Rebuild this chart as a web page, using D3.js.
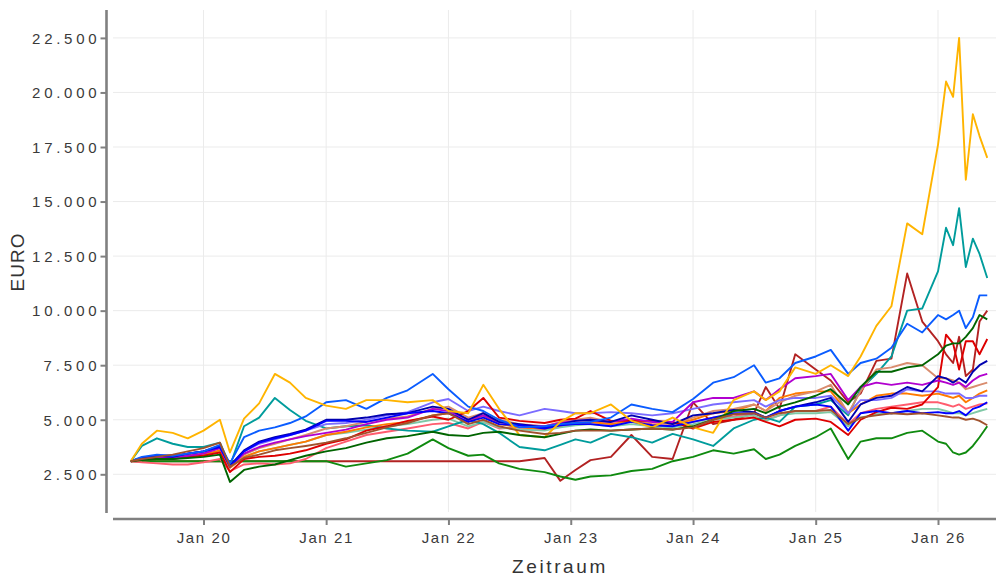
<!DOCTYPE html>
<html><head><meta charset="utf-8">
<script src="https://cdn.jsdelivr.net/npm/d3@7"></script>
<style>
body{margin:0;background:#fff}
text{font-family:"Liberation Sans",Arial,sans-serif}
</style>
</head><body>
<svg id="c" width="996" height="578"></svg>
<script>
const dates = ["2019-05-29","2019-07-01","2019-08-15","2019-10-01","2019-11-15",
"2020-01-01","2020-02-19","2020-03-20","2020-05-01","2020-06-15","2020-08-01","2020-09-15","2020-11-01",
"2021-01-01","2021-03-01","2021-05-01","2021-07-01","2021-09-01","2021-11-15",
"2022-01-01","2022-03-01","2022-04-15","2022-06-01","2022-08-01","2022-10-15","2022-12-01",
"2023-01-15","2023-03-01","2023-05-01","2023-07-01","2023-09-01","2023-11-01",
"2024-01-01","2024-03-01","2024-05-01","2024-07-01","2024-08-05","2024-09-15","2024-11-01",
"2025-01-01","2025-02-15","2025-04-08","2025-05-15","2025-07-01","2025-08-15","2025-10-01","2025-11-15",
"2026-01-01","2026-01-25","2026-02-15","2026-03-05","2026-03-25","2026-04-15","2026-05-05","2026-05-28"];

const yTickValues = [2500,5000,7500,10000,12500,15000,17500,20000,22500];
const xTickDates = ["2020-01-01","2021-01-01","2022-01-01","2023-01-01","2024-01-01","2025-01-01","2026-01-01"];

const gold = [3100,3900,4500,4400,4150,
 4500,5000,3500,5050,5750,7100,6700,6000,
 5650,5500,5900,5900,5800,5900,
 5400,5300,6600,5500,4300,4200,4900,
 5300,5300,5700,4950,4650,5100,
 4650,4400,5900,6300,5900,6300,7400,
 7100,7500,7000,7900,9300,10200,14000,13500,
 17600,20500,19800,22500,16000,19000,18000,17000];
const teal = [3100,3800,4150,3900,3750,
 3750,3950,2900,4700,5100,6000,5450,4950,
 4600,4700,4750,4600,4500,4450,
 4700,5000,4800,4400,3750,3600,3850,
 4100,3950,4350,4200,3950,4350,
 4100,3800,4600,5000,5100,4900,5600,
 5700,5900,5200,6400,7100,7900,10000,10100,
 11800,13800,13000,14700,12000,13300,12600,11500];
const brightBlue = [3100,3300,3400,3350,3450,
 3550,3850,3000,4200,4500,4650,4850,5150,
 5800,5900,5500,6000,6350,7100,
 6400,5600,5400,5000,4650,4700,4800,
 4850,4900,5100,5700,5500,5350,
 5950,6700,6950,7500,6700,6900,7600,
 7900,8200,7100,7600,7800,8300,9400,9000,
 9800,9600,9800,10000,9200,9700,10700,10700];
const firebrick = [3100,3100,3100,3100,3100,
 3100,3100,3100,3100,3100,3100,3100,3100,
 3100,3100,3100,3100,3100,3100,
 3100,3100,3100,3100,3100,3250,2200,
 2700,3150,3300,4300,3300,3200,
 5800,4800,5000,5300,6500,5500,8000,
 7300,6800,5800,6200,7700,7800,11700,9500,
 8600,8000,7600,8800,7000,7300,9500,10000];
const red = [3100,3200,3250,3200,3300,
 3350,3500,2600,3200,3300,3350,3450,3600,
 3900,4100,4500,4700,4950,5150,
 5000,5400,6000,5100,4950,4850,5000,
 5050,5400,4950,4950,4950,4900,
 4600,4900,5000,5100,4900,4700,5000,
 5050,4900,4300,5000,5350,5550,5500,5700,
 6500,8900,8500,7300,8600,8600,8000,8700];
const darkGreen = [3100,3150,3200,3200,3250,
 3300,3400,2150,2700,2850,2950,3150,3350,
 3550,3700,3950,4150,4250,4450,
 4300,4250,4400,4450,4300,4200,4350,
 4500,4550,4500,4550,4600,4550,
 4700,5000,5400,5500,5300,5600,5800,
 6100,6400,5700,6500,7200,7200,7400,7500,
 8000,8400,8500,8500,8800,9200,9800,9600];
const green = [3100,3100,3100,3100,3100,
 3100,3100,3100,3100,3100,3100,3100,3100,
 3100,2850,3000,3150,3450,4100,
 3700,3350,3400,3000,2750,2600,2400,
 2250,2400,2450,2650,2750,3100,
 3300,3600,3450,3650,3200,3400,3800,
 4200,4600,3200,4000,4150,4150,4400,4500,
 4000,3900,3500,3400,3500,3800,4200,4700];
const navy = [3100,3250,3350,3300,3450,
 3550,3800,2900,3600,4000,4200,4350,4550,
 5000,5000,5100,5250,5300,5600,
 5500,5000,5300,4900,4800,4650,4800,
 4950,5000,4900,5200,5000,4800,
 5200,5300,5450,5350,5100,5400,5600,
 5800,6000,4900,5700,6000,6100,6500,6300,
 7000,6900,6700,6900,6700,7200,7500,7700];
const purple = [3100,3200,3300,3250,3350,
 3450,3700,2850,3450,3750,3950,4100,4250,
 4400,4550,4800,5000,5100,5500,
 5400,5000,5200,4900,4750,4700,4850,
 4950,5000,4900,5050,4900,4900,
 5800,6000,6000,6300,5900,6400,6900,
 7000,7100,5900,6500,6700,6600,6700,6600,
 6800,6700,6600,6700,6500,6800,7000,7100];
const tan = [3100,3250,3300,3300,3400,
 3500,3700,2850,3400,3700,3900,4100,4300,
 4600,4700,4900,5050,5150,5500,
 5600,5100,5300,5000,4800,4700,4900,
 5000,5100,4900,5000,4900,4800,
 5100,5400,5500,5700,5400,5800,6100,
 6300,6600,5300,6300,7300,7400,7600,7500,
 6900,6900,6800,6700,6400,6500,6600,6700];
const orange = [3100,3200,3250,3250,3300,
 3400,3600,2800,3300,3550,3700,3850,4000,
 4300,4450,4650,4800,4900,5200,
 5300,4900,5200,4800,4650,4600,4750,
 4850,4900,4800,4950,4900,4800,
 5000,5300,5400,5700,5400,6000,6200,
 6300,6300,5300,5700,6100,6200,6200,6100,
 6200,6100,6000,6100,5800,6000,6200,6350];
const lavender = [3100,3250,3350,3300,3450,
 3550,3750,2900,3550,3900,4100,4300,4500,
 4800,4850,5000,5200,5350,5800,
 5950,5400,5600,5400,5200,5500,5400,
 5300,5300,5350,5300,5200,5300,
 5500,5700,5800,5900,5600,5900,6000,
 6000,6100,5300,5900,5900,6000,6400,6300,
 6300,6200,6200,6200,6000,6000,6100,6100];
const pink = [3100,3050,3000,2950,2950,
 3050,3200,2650,2950,3000,2950,3000,3200,
 3700,4000,4300,4450,4600,4800,
 4850,4600,4900,4600,4650,4550,4700,
 4800,4900,4800,4950,4800,4700,
 4900,5100,5150,5300,5000,5200,5400,
 5400,5600,4800,5300,5500,5600,5700,5800,
 5800,5700,5600,5700,5500,5600,5700,5750];
const blue = [3100,3250,3350,3350,3450,
 3550,3750,2850,3550,3950,4150,4300,4500,
 4950,4950,4900,5100,5300,5400,
 5300,4900,5100,4800,4750,4600,4750,
 4800,4800,4700,4900,4750,4700,
 4900,5100,5300,5300,5100,5400,5600,
 5700,5600,4500,5300,5400,5300,5400,5300,
 5350,5300,5300,5400,5200,5500,5600,5800];
const mint = [3100,3200,3250,3250,3300,
 3400,3550,2800,3300,3550,3700,3850,4000,
 4300,4400,4550,4700,4800,5000,
 5050,4700,4900,4650,4550,4500,4650,
 4750,4800,4700,4800,4700,4650,
 4800,5000,5100,5200,4950,5200,5300,
 5300,5350,4700,5100,5250,5300,5400,5500,
 5500,5400,5300,5300,5200,5300,5400,5500];
const brown = [3100,3200,3300,3400,3550,
 3700,3950,2850,3250,3400,3600,3700,3800,
 3950,4150,4400,4650,4850,5200,
 5300,4800,5000,4700,4500,4350,4400,
 4500,4500,4500,4550,4600,4550,
 4650,5000,5250,5300,5100,5300,5400,
 5400,5450,4800,5100,5200,5300,5250,5300,
 5200,5150,5100,5100,5000,5050,4950,4750];

const seriesList = [
  {values: firebrick, color: "#B22222"},
  {values: green, color: "#0F8A0F"},
  {values: pink, color: "#FF5C6E"},
  {values: mint, color: "#7FC8A6"},
  {values: teal, color: "#009C9C"},
  {values: orange, color: "#FF7A00"},
  {values: tan, color: "#D98C6E"},
  {values: lavender, color: "#7B6CFF"},
  {values: red, color: "#DE0000"},
  {values: purple, color: "#B100CF"},
  {values: navy, color: "#0000B0"},
  {values: blue, color: "#0000FF"},
  {values: brightBlue, color: "#0A5CFF"},
  {values: gold, color: "#FFB400"},
  {values: darkGreen, color: "#006400"},
  {values: brown, color: "#A0522D"}
];

const parse = d3.timeParse("%Y-%m-%d");
const dateObjs = dates.map(parse);
const svg = d3.select("#c");

const panel = {left: 113, right: 996, top: 10, bottom: 512};
const x = d3.scaleTime()
  .domain([parse("2020-01-01"), parse("2026-01-01")])
  .range([203.5, 938]);
const y = d3.scaleLinear().domain([2500, 22500]).range([474.3, 37.9]);

const de = d3.formatLocale({decimal: ",", thousands: ".", grouping: [3], currency: ["", " €"]});
const fmt = de.format(",.0f");

// gridlines
const grid = svg.append("g");
grid.selectAll("line.h").data(yTickValues).join("line")
  .attr("x1", panel.left).attr("x2", panel.right)
  .attr("y1", d => y(d)).attr("y2", d => y(d))
  .attr("stroke", "#ebebeb").attr("stroke-width", 1);
grid.selectAll("line.v").data(xTickDates.map(parse)).join("line")
  .attr("x1", d => x(d)).attr("x2", d => x(d))
  .attr("y1", panel.top).attr("y2", panel.bottom)
  .attr("stroke", "#ebebeb").attr("stroke-width", 1);

// lines
const line = d3.line().x((d, i) => x(dateObjs[i])).y(d => y(d));
svg.append("g").selectAll("path").data(seriesList).join("path")
  .attr("d", s => line(s.values))
  .attr("fill", "none")
  .attr("stroke", s => s.color)
  .attr("stroke-width", 1.9)
  .attr("stroke-linejoin", "round");

// y axis
const yAxis = d3.axisLeft(y).tickValues(yTickValues).tickFormat(fmt).tickSize(6).tickPadding(4);
const gy = svg.append("g").attr("transform", "translate(106.5,0)").call(yAxis);
gy.select(".domain").remove();
gy.selectAll(".tick line").attr("stroke", "#808080").attr("stroke-width", 2);
gy.selectAll(".tick text").remove();
gy.selectAll(".tick").append("text")
  .attr("x", -10).attr("dy", "0.35em")
  .attr("text-anchor", "end")
  .attr("fill", "#3a3a3a")
  .attr("font-size", 15)
  .attr("font-family", "Liberation Sans, Arial, sans-serif")
  .attr("textLength", d => fmt(d).length * 11.4 - 4)
  .attr("lengthAdjust", "spacing")
  .text(d => fmt(d));
svg.append("line").attr("x1", 106.5).attr("x2", 106.5).attr("y1", panel.top).attr("y2", panel.bottom + 1)
  .attr("stroke", "#808080").attr("stroke-width", 2.6);

// x axis
const xAxis = d3.axisBottom(x).tickValues(xTickDates.map(parse))
  .tickFormat(d3.timeFormat("%b %y")).tickSize(6).tickPadding(7);
const gx = svg.append("g").attr("transform", "translate(0,519)").call(xAxis);
gx.select(".domain").remove();
gx.selectAll(".tick line").attr("stroke", "#808080").attr("stroke-width", 2);
gx.selectAll(".tick text").attr("fill", "#3a3a3a").style("font-size", "15px")
  .style("letter-spacing", "1.6px").attr("font-family", null);
svg.append("line").attr("x1", panel.left).attr("x2", 996).attr("y1", 519).attr("y2", 519)
  .attr("stroke", "#808080").attr("stroke-width", 2.6);

// titles
svg.append("text").attr("x", 560).attr("y", 573).attr("text-anchor", "middle")
  .attr("fill", "#333").style("font-size", "19px").style("letter-spacing", "2.6px").text("Zeitraum");
svg.append("text").attr("transform", "translate(24,262) rotate(-90)").attr("text-anchor", "middle")
  .attr("fill", "#333").style("font-size", "19px").style("letter-spacing", "1px").text("EURO");
</script>
</body></html>
